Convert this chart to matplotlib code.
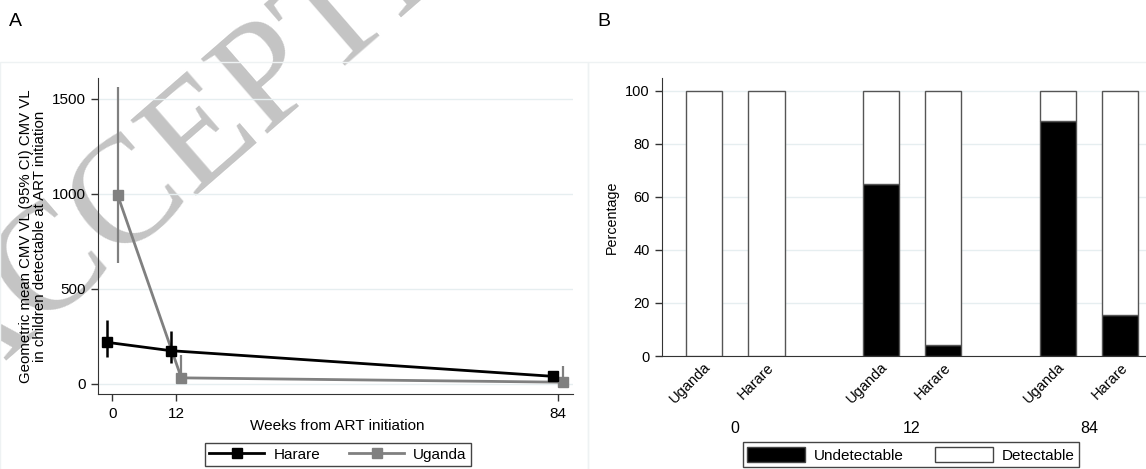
import matplotlib
matplotlib.use("Agg")
import matplotlib.pyplot as plt
from matplotlib.lines import Line2D
from matplotlib.patches import Patch, Rectangle
import numpy as np

# Panel A data: geometric mean CMV VL with 95% CI
weeks = [0, 12, 84]
harare_gm = [219, 175, 40]
harare_lo = [140, 110, 28]
harare_hi = [338, 277, 55]
uganda_gm = [994, 32, 9]
uganda_lo = [636, 10, 2]
uganda_hi = [1561, 154, 96]

# Panel B data: percentage undetectable per site and week
week_groups = ["0", "12", "84"]
sites = ["Uganda", "Harare"]
uganda_undet = [0, 65, 88.5]
harare_undet = [0, 4, 15.5]

plt.rcParams['font.family'] = ['Liberation Sans', 'DejaVu Sans']

W, H = 1146, 469
fig = plt.figure(figsize=(W / 100, H / 100), dpi=100)

def axes_px(l, t, r, b):
    # axes placed by pixel box (left, top, right, bottom)
    return fig.add_axes([l / W, 1 - b / H, (r - l) / W, (b - t) / H])

dark = '#333333'
grid_col = '#e6eef0'
grey = '#808080'

# watermark behind everything
fig.text(-44 / W, 1 - 404 / H, "ACCEPTED MANUSCRIPT", rotation=41,
         rotation_mode='anchor', ha='left', va='baseline', fontsize=110,
         family='Liberation Serif', color='#c4c4c4', zorder=-5)

# faint graph regions
for (l, t, r, b) in [(0, 62, 588, 480), (588, 62, 1170, 480)]:
    fig.add_artist(Rectangle((l / W, 1 - b / H), (r - l) / W, (b - t) / H,
                             transform=fig.transFigure, fill=False,
                             edgecolor='#eef2f3', lw=1, zorder=-4))

# ---------- Panel A ----------
axA = axes_px(98, 78, 573, 394)
axA.set_facecolor('none')
wk = np.array(weeks)
dodge = 1

axA.errorbar(wk - dodge, harare_gm,
             yerr=[np.array(harare_gm) - harare_lo, np.array(harare_hi) - harare_gm],
             color='black', lw=2, elinewidth=1.8, capsize=0, marker='s',
             markersize=7.5, zorder=4)
axA.errorbar(wk + dodge, uganda_gm,
             yerr=[np.array(uganda_gm) - uganda_lo, np.array(uganda_hi) - uganda_gm],
             color=grey, lw=2, elinewidth=1.6, capsize=0, marker='s',
             markersize=7.5, zorder=3)

axA.set_xlim(-2.7, 86.8)
axA.set_ylim(-53, 1610)
axA.set_xticks(weeks)
axA.set_yticks([0, 500, 1000, 1500])
axA.grid(axis='y', color=grid_col, lw=1)
axA.set_axisbelow(True)
for s in ['top', 'right']:
    axA.spines[s].set_visible(False)
for s in ['left', 'bottom']:
    axA.spines[s].set_color(dark)
axA.tick_params(direction='out', length=5, width=1, color=dark,
                labelsize=11, pad=4)

fig.text(33 / W, 1 - 236 / H,
         "Geometric mean CMV VL (95% CI) CMV VL\nin children detectable at ART initiation",
         rotation=90, ha='center', va='center', fontsize=10.8, linespacing=0.95)
fig.text(337 / W, 1 - 426 / H, "Weeks from ART initiation",
         ha='center', va='center', fontsize=11)

legA = fig.legend([Line2D([], [], color='black', lw=2, marker='s', markersize=6.5),
                   Line2D([], [], color=grey, lw=2, marker='s', markersize=6.5)],
                  ["Harare", "Uganda"], loc='upper center',
                  bbox_to_anchor=(338 / W, 1 - 443 / H), ncol=2, fontsize=11,
                  frameon=True, fancybox=False, edgecolor='#444444', framealpha=1,
                  handlelength=3.6, handletextpad=0.6, columnspacing=1.9,
                  borderaxespad=0, borderpad=0.3)
legA.get_frame().set_linewidth(1)

fig.text(9 / W, 1 - 22 / H, "A", ha='left', va='center', fontsize=14)
fig.text(597 / W, 1 - 22 / H, "B", ha='left', va='center', fontsize=14)

# ---------- Panel B ----------
axB = axes_px(662, 78, 1162, 356)
axB.set_facecolor('none')
gap = 2.83
bar_w = 0.58
pos_u = np.arange(len(week_groups)) * gap
pos_h = pos_u + 1
und = [uganda_undet, harare_undet]
for pos, u in zip([pos_u, pos_h], und):
    u = np.array(u)
    axB.bar(pos, u, width=bar_w, color='black', edgecolor='#555555', lw=1, zorder=3)
    axB.bar(pos, 100 - u, bottom=u, width=bar_w, color='white',
            edgecolor='#555555', lw=1, zorder=3)

all_pos = np.concatenate([pos_u, pos_h])
order = np.argsort(all_pos)
labels = np.array([sites[0]] * 3 + [sites[1]] * 3)
axB.set_xticks(all_pos[order])
axB.set_xticklabels(labels[order], rotation=45, ha='right', rotation_mode='anchor')
axB.set_xlim(-0.67, 7.33)
axB.set_ylim(0, 104.9)
axB.set_yticks(range(0, 101, 20))
axB.grid(axis='y', color=grid_col, lw=1)
axB.set_axisbelow(True)
for s in ['top', 'right']:
    axB.spines[s].set_visible(False)
for s in ['left', 'bottom']:
    axB.spines[s].set_color(dark)
axB.tick_params(axis='y', direction='out', length=5, width=1, color=dark,
                labelsize=10.5, pad=4)
axB.tick_params(axis='x', length=0, labelsize=10.5, pad=3)
axB.set_ylabel("Percentage", fontsize=10.3, labelpad=4)

for p, g in zip((pos_u + pos_h) / 2, week_groups):
    axB.text(p, -(428 - 356) / 278, g, transform=axB.get_xaxis_transform(),
             ha='center', va='center', fontsize=11.5)

legB = fig.legend([Patch(facecolor='black', edgecolor='#444444'),
                   Patch(facecolor='white', edgecolor='#444444')],
                  ["Undetectable", "Detectable"], loc='upper center',
                  bbox_to_anchor=(911 / W, 1 - 442 / H), ncol=2, fontsize=11,
                  frameon=True, fancybox=False, edgecolor='#444444', framealpha=1,
                  handlelength=3.8, handleheight=1.2, handletextpad=0.6,
                  columnspacing=2.0, borderaxespad=0, borderpad=0.3)
legB.get_frame().set_linewidth(1)

fig.savefig("out.png", dpi=100)
